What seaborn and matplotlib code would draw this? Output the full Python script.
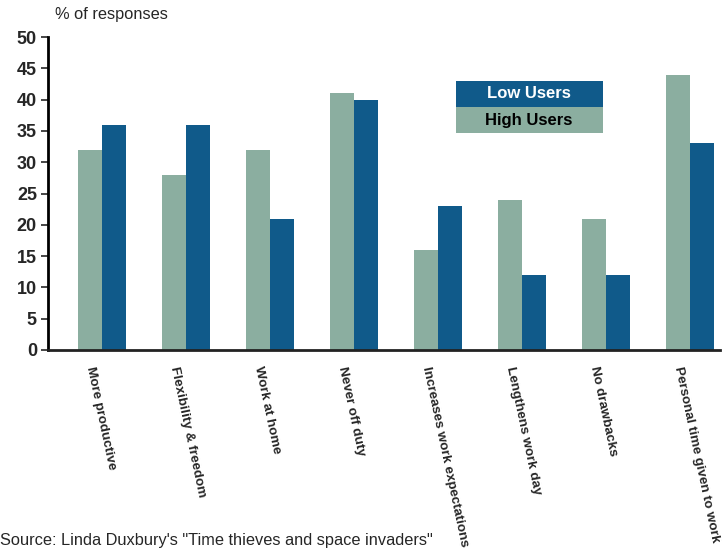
import numpy as np
import pandas as pd
import matplotlib
matplotlib.use('Agg')
import matplotlib.pyplot as plt
import matplotlib.transforms as mtransforms
from matplotlib.patches import Rectangle
import seaborn as sns

# data
categories = ['More productive', 'Flexibility & freedom', 'Work at home', 'Never off duty',
              'Increases work expectations', 'Lengthens work day', 'No drawbacks',
              'Personal time given to work']
high_users = [32, 28, 32, 41, 16, 24, 21, 44]
low_users = [36, 36, 21, 40, 23, 12, 12, 33]

green = '#8BAEA0'
blue = '#105A8A'

df = pd.DataFrame({
    'category': categories * 2,
    'group': ['High Users'] * len(categories) + ['Low Users'] * len(categories),
    'value': high_users + low_users,
})

sns.set_style('white')
plt.rcParams['font.family'] = ['Liberation Sans', 'DejaVu Sans']

fig = plt.figure(figsize=(7.27, 5.57), dpi=100)
ax = fig.add_axes([48 / 727, 1 - 350 / 557, 672 / 727, 313 / 557])

sns.barplot(data=df, x='category', y='value', hue='group',
            hue_order=['High Users', 'Low Users'],
            palette={'High Users': green, 'Low Users': blue},
            width=0.57, gap=0, saturation=1, linewidth=0, ax=ax, legend=False)

ax.set_xlim(-0.643, 7.357)
ax.set_ylim(0, 50)
ax.set_yticks(range(0, 51, 5))
ax.set_xlabel('')
ax.set_ylabel('')

for s in ['top', 'right']:
    ax.spines[s].set_visible(False)
ax.spines['left'].set_linewidth(2)
ax.spines['left'].set_color('black')
ax.spines['bottom'].set_linewidth(2)
ax.spines['bottom'].set_color('#222222')

ax.tick_params(axis='y', direction='out', length=5, width=1.2, left=True,
               labelsize=13, pad=3)
ax.tick_params(axis='x', length=0, pad=12)
for t in ax.get_yticklabels():
    t.set_fontweight('bold')
ax.set_xticks(range(len(categories)))
ax.set_xticklabels(categories, rotation=-78, rotation_mode='anchor',
                   ha='left', va='center', fontsize=9.7, fontweight='bold')
shift = mtransforms.ScaledTranslation(-12 / 100, 0, fig.dpi_scale_trans)
for t in ax.get_xticklabels():
    t.set_transform(t.get_transform() + shift)

# legend boxes
fig.patches.append(Rectangle((456 / 727, 1 - 107 / 557), 147 / 727, 26 / 557,
                             transform=fig.transFigure, fc=blue, ec='none', zorder=3))
fig.patches.append(Rectangle((456 / 727, 1 - 133 / 557), 147 / 727, 26 / 557,
                             transform=fig.transFigure, fc=green, ec='none', zorder=3))
fig.text(529 / 727, 1 - 94 / 557, 'Low Users', ha='center', va='center',
         fontsize=12, fontweight='bold', color='white', zorder=6)
fig.text(529 / 727, 1 - 120 / 557, 'High Users', ha='center', va='center',
         fontsize=12, fontweight='bold', color='black', zorder=6)

fig.text(55 / 727, 1 - 15 / 557, '% of responses', ha='left', va='center', fontsize=11.8)
fig.text(0, 1 - 541 / 557, 'Source: Linda Duxbury\'s "Time thieves and space invaders"',
         ha='left', va='center', fontsize=11.8)

fig.savefig('out.png', dpi=100)
